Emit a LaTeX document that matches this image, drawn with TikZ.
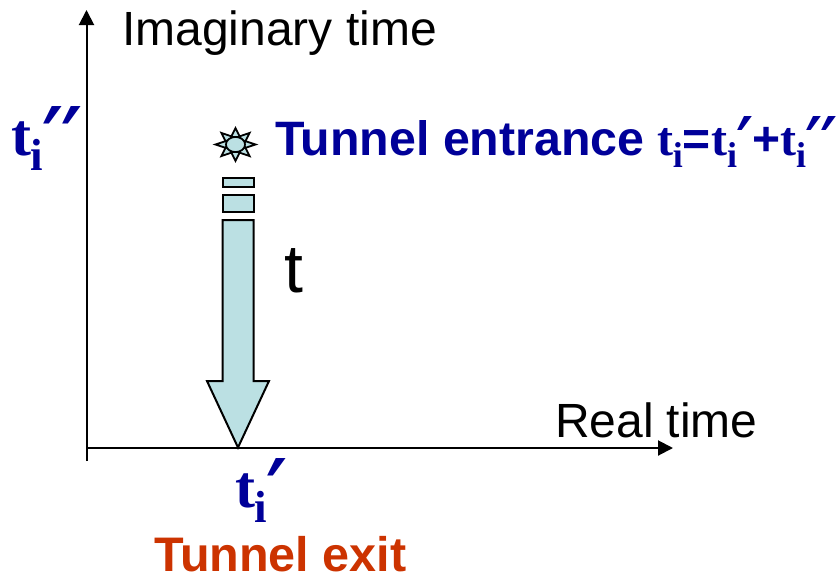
\documentclass[tikz,border=0pt]{standalone}
\usepackage{fontspec}
\setmainfont{Liberation Sans}
\newfontfamily\tsf{Liberation Serif}[BoldFont={* Bold}]
\newfontfamily\prf{DejaVu Sans}
\usetikzlibrary{arrows.meta}
\definecolor{navy}{HTML}{000099}
\definecolor{rust}{HTML}{CC3300}
\definecolor{pale}{HTML}{BBE0E3}
\newcommand{\fs}[1]{\fontsize{#1pt}{#1pt}\selectfont}
\newcommand{\tI}[2]{{\tsf\bfseries\fs{#1}t\raisebox{-0.25em}{\fs{\numexpr#1*3/4\relax}i}#2}}
\newcommand{\pr}{\raisebox{-0.36em}{\scalebox{1.2}[1.6]{\prf\bfseries\itshape\char"2032}}}
\tikzset{
  x=1pt,y=-1pt,
  lab/.style={anchor=base west,inner sep=0pt,outer sep=0pt},
  axis/.style={draw=black,line width=2pt,-{Triangle[length=15pt,width=15pt]}},
  tube/.style={draw=black,line width=2pt,fill=pale,line join=miter},
}
\begin{document}
\begin{tikzpicture}
\useasboundingbox (0,0) rectangle (836,574);
% axes
\coordinate (xs) at (86.5,448); \coordinate (xe) at (673,448);
\coordinate (ys) at (86.5,461);   \coordinate (ye) at (86.5,10);
\draw[axis] (xs) -- (xe);
\draw[axis] (ys) -- (ye);
% sun
\begin{scope}[shift={(235.5,144.5)},yscale=0.82]
\foreach \a in {0,45,...,315}{
  \draw[line width=1.8pt,fill=pale,line join=miter,rotate=\a]
    (9,-4.5) -- (20,0) -- (9,4.5) -- cycle;
}
\end{scope}
\draw[line width=1.6pt,fill=pale] (235.5,144.5) ellipse [x radius=9.5,y radius=7.5];
% tunnel arrow
\draw[tube] (222.5,178) rectangle (253.5,187);
\draw[tube] (222.5,195) rectangle (253.5,212);
\draw[tube] (222.5,220) -- (253.5,220) -- (253.5,381) -- (269,381) -- (238,447.5) -- (207,381) -- (222.5,381) -- cycle;
% labels
\node[lab,font=\fs{48}] (imag) at (122,45) {Imaginary time};
\node[lab,font=\fs{48}] (real) at (555,437) {Real time};
\node[lab,font=\fs{68}] (tt) at (284,292) {t};
\node[lab,font=\fs{48.3}\bfseries,text=navy] (ent) at (275,155) {Tunnel entrance};
\node[lab,font=\fs{48.5}\bfseries,text=rust] (exit) at (154,571) {Tunnel exit};
\node[lab,text=navy] (f) at (657,155) {\tI{48}{}{\bfseries\fs{48}=}\tI{48}{\pr}{\bfseries\fs{48}+}\tI{48}{\pr\pr}};
\node[lab,text=navy] (tpp) at (11,155) {\tI{60}{\pr\pr}};
\node[lab,text=navy] (tp) at (235,507) {\tI{60}{\pr}};
\end{tikzpicture}
\end{document}
